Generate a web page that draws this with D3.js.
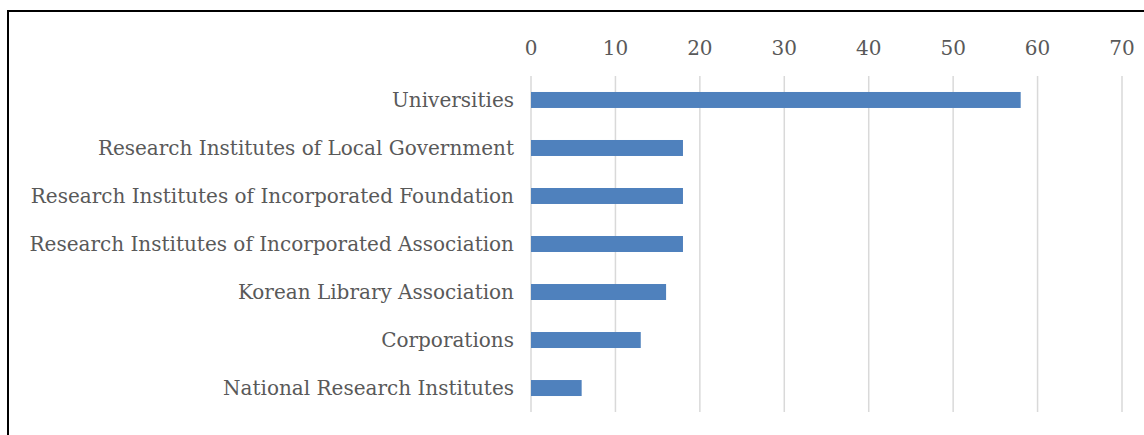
<!DOCTYPE html>
<html>
<head>
<meta charset="utf-8">
<script src="https://cdn.jsdelivr.net/npm/d3@7"></script>
<style>
  body { margin: 0; background: #fff; }
  text { font-family: "DejaVu Serif", serif; fill: #595959; }
</style>
</head>
<body>
<script>
const categories = [
  "Universities",
  "Research Institutes of Local Government",
  "Research Institutes of Incorporated Foundation",
  "Research Institutes of Incorporated Association",
  "Korean Library Association",
  "Corporations",
  "National Research Institutes"
];
const counts = [58, 18, 18, 18, 16, 13, 6];
const xTicks = [0, 10, 20, 30, 40, 50, 60, 70];

const width = 1144, height = 435;
const plotLeft = 531, plotRight = 1122;
const plotTop = 76, plotBottom = 412;

const svg = d3.select("body").append("svg")
  .attr("width", width)
  .attr("height", height);

// frame (runs off the right and bottom edges)
svg.append("rect")
  .attr("x", 8).attr("y", 11)
  .attr("width", 1200).attr("height", 500)
  .attr("fill", "none")
  .attr("stroke", "#000")
  .attr("stroke-width", 2);

const x = d3.scaleLinear().domain([0, 70]).range([plotLeft, plotRight]);
const y = d3.scaleBand().domain(categories).range([plotTop, plotBottom]).paddingInner(0.667).paddingOuter(0.333);

// gridlines
svg.append("g").selectAll("line")
  .data(xTicks)
  .join("line")
  .attr("x1", d => x(d)).attr("x2", d => x(d))
  .attr("y1", plotTop).attr("y2", plotBottom)
  .attr("stroke", "#d9d9d9")
  .attr("stroke-width", 1.5);

// top axis labels
svg.append("g").selectAll("text")
  .data(xTicks)
  .join("text")
  .attr("x", d => x(d))
  .attr("y", 55)
  .attr("text-anchor", "middle")
  .attr("font-size", 20)
  .text(d => d);

// bars
svg.append("g").selectAll("rect")
  .data(categories)
  .join("rect")
  .attr("x", x(0))
  .attr("y", d => y(d))
  .attr("width", (d, i) => x(counts[i]) - x(0))
  .attr("height", y.bandwidth())
  .attr("fill", "#4f81bd");

// category labels
svg.append("g").selectAll("text")
  .data(categories)
  .join("text")
  .attr("x", 514)
  .attr("y", d => y(d) + y.bandwidth() / 2)
  .attr("dy", "0.35em")
  .attr("text-anchor", "end")
  .attr("font-size", 20)
  .text(d => d);
</script>
</body>
</html>
